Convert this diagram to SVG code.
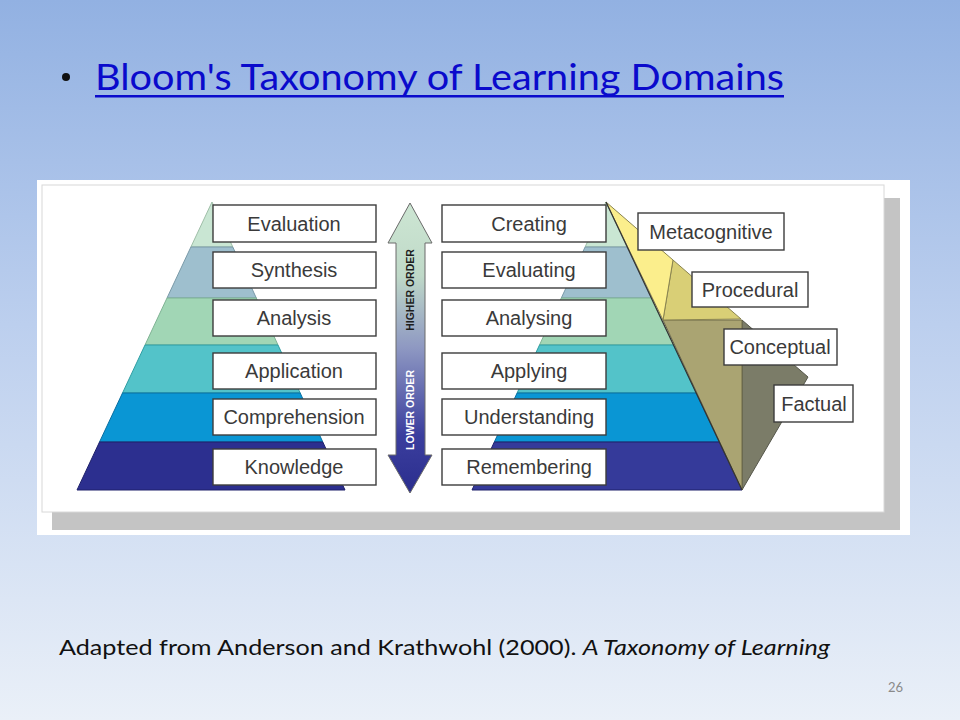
<svg xmlns="http://www.w3.org/2000/svg" width="960" height="720" viewBox="0 0 960 720">
<defs>
<linearGradient id="bg" x1="0" y1="0" x2="0" y2="1">
<stop offset="0" stop-color="#92b1e2"/>
<stop offset="0.45" stop-color="#bccfee"/>
<stop offset="1" stop-color="#eaf0f8"/>
</linearGradient>
<linearGradient id="arr" x1="0" y1="203" x2="0" y2="493" gradientUnits="userSpaceOnUse">
<stop offset="0" stop-color="#cde6d3"/>
<stop offset="0.25" stop-color="#bfd9c8"/>
<stop offset="0.5" stop-color="#8e98c2"/>
<stop offset="0.8" stop-color="#3b3e9e"/>
<stop offset="1" stop-color="#2b2e8e"/>
</linearGradient>
<style>
.box{fill:#fff;stroke:#3c3c3c;stroke-width:1.4}
.lbl{font-family:"Liberation Sans",Arial,sans-serif;font-size:20px;fill:#3a3a3a;text-anchor:middle}
.band{stroke-width:1}
.ord{font-family:"Liberation Sans",Arial,sans-serif;font-size:10.5px;font-weight:bold;text-anchor:middle}
</style>
</defs>
<rect width="960" height="720" fill="url(#bg)"/>

<g id="title">
<circle cx="66" cy="77" r="4" fill="#111"/>
<text x="95" y="90" font-family="Lato,'Open Sans',sans-serif" font-size="36" fill="#0a0acc" textLength="689" lengthAdjust="spacingAndGlyphs">Bloom's Taxonomy of Learning Domains</text>
<rect x="95" y="95" width="689" height="2.5" fill="#0a0acc"/>
</g>

<g id="panel">
<rect x="37" y="180" width="873" height="355" fill="#ffffff"/>
<rect x="52" y="198" width="848" height="332" fill="#c4c4c4"/>
<rect x="42" y="185" width="842" height="327" fill="#ffffff" stroke="#d8d8d8" stroke-width="1"/>
</g>

<g id="left-pyramid">
<polygon class="band" points="212,202 232.8,247 190.9,247" fill="#c9e6d3" stroke="#9fbfa8"/>
<polygon class="band" points="190.9,247 232.8,247 256.3,298 167,298" fill="#9ebfce" stroke="#7a9aa8"/>
<polygon class="band" points="167,298 256.3,298 278,345 145,345" fill="#a1d6b5" stroke="#7fb394"/>
<polygon class="band" points="145,345 278,345 300.2,393 122.5,393" fill="#53c3c9" stroke="#2f9ea3"/>
<polygon class="band" points="122.5,393 300.2,393 322.8,442 99.5,442" fill="#0a96d4" stroke="#0a6ea0"/>
<polygon class="band" points="99.5,442 322.8,442 345,490 77,490" fill="#2c2f8f" stroke="#1e206a"/>
</g>

<g id="right-pyramid">
<polygon class="band" points="606,202 627.2,247 585.1,247" fill="#c9e6d3" stroke="#9fbfa8"/>
<polygon class="band" points="585.1,247 627.2,247 651.3,298 561.3,298" fill="#9ebfce" stroke="#7a9aa8"/>
<polygon class="band" points="561.3,298 651.3,298 673.5,345 539.5,345" fill="#a1d6b5" stroke="#7fb394"/>
<polygon class="band" points="539.5,345 673.5,345 696.2,393 517.1,393" fill="#53c3c9" stroke="#2f9ea3"/>
<polygon class="band" points="517.1,393 696.2,393 719.3,442 494.3,442" fill="#0a96d4" stroke="#0a6ea0"/>
<polygon class="band" points="494.3,442 719.3,442 742,490 472,490" fill="#353a9a" stroke="#1e206a"/>
</g>

<g id="knowledge-faces">
<polygon points="808,377 742,320 742,490" fill="#7b7c68" stroke="#55564a" stroke-width="1"/>
<polygon points="663,320 742,320 742,490" fill="#aaa472" stroke="#6e6a48" stroke-width="1"/>
<polygon points="673,260 741,319 663,320" fill="#d9cf76" stroke="#8a8450" stroke-width="1"/>
<polygon points="606,202 673,260 663,320" fill="#fbee8c" stroke="#8a8450" stroke-width="1"/>
<line x1="606" y1="202" x2="742" y2="490" stroke="#333" stroke-width="1.2"/>
</g>

<g id="order-arrow">
<polygon points="410,203 432,243 425,243 425,455 432,455 410,493 388,455 396,455 396,243 388,243" fill="url(#arr)" stroke="#6a6a6a" stroke-width="1"/>
<text class="ord" transform="translate(414,290) rotate(-90)" fill="#1e1e1e">HIGHER ORDER</text>
<text class="ord" transform="translate(414,410) rotate(-90)" fill="#ffffff">LOWER ORDER</text>
</g>

<g id="old-labels">
<g id="evaluation"><rect class="box" x="213" y="205" width="163" height="37"/><text class="lbl" x="294" y="230.5">Evaluation</text></g>
<g id="synthesis"><rect class="box" x="213" y="252" width="163" height="36"/><text class="lbl" x="294" y="277">Synthesis</text></g>
<g id="analysis"><rect class="box" x="213" y="300" width="163" height="36"/><text class="lbl" x="294" y="325">Analysis</text></g>
<g id="application"><rect class="box" x="213" y="353" width="163" height="36"/><text class="lbl" x="294" y="378">Application</text></g>
<g id="comprehension"><rect class="box" x="213" y="399" width="163" height="36"/><text class="lbl" x="294" y="424">Comprehension</text></g>
<g id="knowledge"><rect class="box" x="213" y="449" width="163" height="36"/><text class="lbl" x="294" y="474">Knowledge</text></g>
</g>

<g id="new-labels">
<g id="creating"><rect class="box" x="442" y="205" width="164" height="37"/><text class="lbl" x="529" y="230.5">Creating</text></g>
<g id="evaluating"><rect class="box" x="442" y="252" width="164" height="36"/><text class="lbl" x="529" y="277">Evaluating</text></g>
<g id="analysing"><rect class="box" x="442" y="300" width="164" height="36"/><text class="lbl" x="529" y="325">Analysing</text></g>
<g id="applying"><rect class="box" x="442" y="353" width="164" height="36"/><text class="lbl" x="529" y="378">Applying</text></g>
<g id="understanding"><rect class="box" x="442" y="399" width="164" height="36"/><text class="lbl" x="529" y="424">Understanding</text></g>
<g id="remembering"><rect class="box" x="442" y="449" width="164" height="36"/><text class="lbl" x="529" y="474">Remembering</text></g>
</g>

<g id="knowledge-labels">
<g id="metacognitive"><rect class="box" x="638" y="213" width="146" height="37"/><text class="lbl" x="711" y="238.5">Metacognitive</text></g>
<g id="procedural"><rect class="box" x="692" y="272" width="116" height="35"/><text class="lbl" x="750" y="296.5">Procedural</text></g>
<g id="conceptual"><rect class="box" x="724" y="329" width="113" height="36"/><text class="lbl" x="780" y="354">Conceptual</text></g>
<g id="factual"><rect class="box" x="774" y="385" width="79" height="37"/><text class="lbl" x="814" y="410.5">Factual</text></g>
</g>

<g id="footer">
<text x="59" y="655" font-family="Lato,'Open Sans',sans-serif" font-size="22" fill="#111" textLength="771" lengthAdjust="spacingAndGlyphs">Adapted from Anderson and Krathwohl (2000). <tspan font-style="italic">A Taxonomy of Learning</tspan></text>
<text x="903" y="692" font-family="Lato,'Open Sans',sans-serif" font-size="13" fill="#8a8a8a" text-anchor="end">26</text>
</g>
</svg>
